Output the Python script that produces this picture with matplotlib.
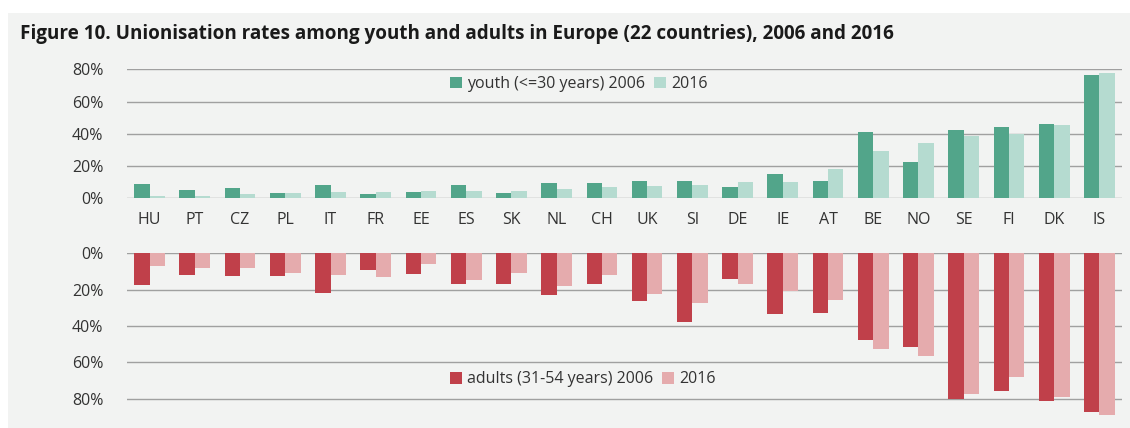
import matplotlib.pyplot as plt
import matplotlib.patches as mpatches
import numpy as np

plt.rcParams['font.family'] = ['Open Sans', 'DejaVu Sans']

countries = ["HU", "PT", "CZ", "PL", "IT", "FR", "EE", "ES", "SK", "NL", "CH",
             "UK", "SI", "DE", "IE", "AT", "BE", "NO", "SE", "FI", "DK", "IS"]

# unionisation rates (%)
youth_2006 = [8.7, 5.2, 6.6, 3.5, 8.1, 2.9, 3.9, 8.3, 3.1, 9.3, 9.3,
              10.7, 10.7, 6.8, 15.1, 10.7, 41.3, 22.3, 42.2, 44.2, 46.1, 76.3]
youth_2016 = [1.2, 1.7, 2.7, 3.3, 4.1, 4.1, 4.3, 4.3, 4.5, 5.8, 7.2,
              7.4, 8.3, 10.1, 10.3, 18.2, 29.1, 34.5, 38.7, 39.9, 45.7, 77.7]
adult_2006 = [17.6, 11.7, 12.7, 12.7, 22.0, 9.0, 11.2, 16.7, 16.7, 22.8, 17.1,
              26.2, 38.0, 14.3, 33.6, 33.0, 47.9, 51.7, 80.2, 76.0, 81.3, 87.3]
adult_2016 = [6.8, 7.9, 8.3, 10.6, 12.1, 13.2, 5.9, 14.7, 10.6, 17.8, 11.9,
              22.6, 27.2, 16.7, 20.9, 25.9, 52.7, 56.5, 77.6, 68.3, 79.3, 89.0]

yticks = [0, 20, 40, 60, 80]
ytick_labels = ["0%", "20%", "40%", "60%", "80%"]

bg = "#f2f3f2"
c_y06, c_y16 = "#52a58a", "#b5dbd0"
c_a06, c_a16 = "#c0404a", "#e5abad"
grid_c = "#a0a0a0"
txt_c = "#333333"

W, H = 1130, 428
fig = plt.figure(figsize=(W / 100, H / 100), dpi=100)
fig.patch.set_facecolor("white")
fig.add_artist(mpatches.Rectangle((8 / W, 0), 1, 1 - 13 / H, transform=fig.transFigure,
                                  facecolor=bg, edgecolor="none", zorder=0))

fig.text(20 / W, 1 - 39 / H,
         "Figure 10. Unionisation rates among youth and adults in Europe (22 countries), 2006 and 2016",
         fontsize=13.6, fontweight="bold", color="#1a1a1a", va="baseline", ha="left")

x = np.arange(len(countries))
bw = 0.34

left, width = 127 / W, 995 / W
ax1 = fig.add_axes([left, 1 - 198.3 / H, width, 129 / H])
ax2 = fig.add_axes([left, 1 - 416.9 / H, width, 163.6 / H])

for ax in (ax1, ax2):
    ax.set_facecolor("none")
    ax.set_xlim(-0.5, len(countries) - 0.5)
    for s in ax.spines.values():
        s.set_visible(False)
    ax.set_axisbelow(True)
    for v in yticks:
        ax.axhline(v, color=grid_c, linewidth=1, zorder=0)
    ax.set_yticks(yticks)
    ax.set_yticklabels(ytick_labels)
    ax.tick_params(axis="y", length=0, pad=17, labelsize=11.5, labelcolor=txt_c)

ax1.bar(x - bw / 2, youth_2006, bw, color=c_y06, label="youth (<=30 years) 2006", zorder=2)
ax1.bar(x + bw / 2, youth_2016, bw, color=c_y16, label="2016", zorder=2)
ax1.set_ylim(0, 80)
ax1.set_xticks(x)
ax1.set_xticklabels(countries)
ax1.tick_params(axis="x", length=0, pad=10, labelsize=11.5, labelcolor=txt_c)
ax1.legend(loc="center", bbox_to_anchor=(0.454, 0.885), ncol=2, frameon=False,
           fontsize=11.5, handlelength=0.75, handleheight=0.75, handletextpad=0.3,
           columnspacing=0.6, labelcolor=txt_c)

ax2.bar(x - bw / 2, adult_2006, bw, color=c_a06, label="adults (31-54 years) 2006", zorder=2)
ax2.bar(x + bw / 2, adult_2016, bw, color=c_a16, label="2016", zorder=2)
ax2.set_ylim(90, 0)
ax2.set_xticks([])
ax2.legend(loc="center", bbox_to_anchor=(0.458, 0.23), ncol=2, frameon=False,
           fontsize=11.5, handlelength=0.75, handleheight=0.75, handletextpad=0.3,
           columnspacing=0.6, labelcolor=txt_c)

fig.savefig("out.png", dpi=100, facecolor="white")
